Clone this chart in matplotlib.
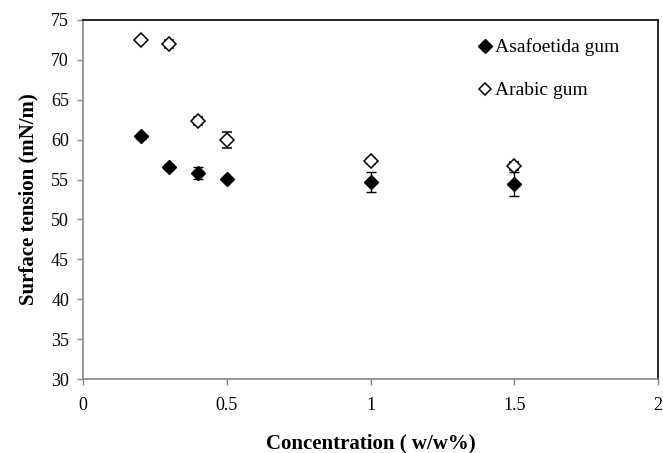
import numpy as np
import matplotlib
matplotlib.use('Agg')
import matplotlib.pyplot as plt
from matplotlib.lines import Line2D

# Données
concentration = [0.2, 0.3, 0.4, 0.5, 1.0, 1.5]
asafoetida = [60.4, 56.6, 55.8, 55.1, 54.7, 54.5]
asafoetida_err = [0.3, 0.4, 0.75, 0.0, 1.2, 1.5]
arabic = [72.5, 72.0, 62.4, 59.9, 57.3, 56.7]
arabic_err = [0.0, 0.5, 0.5, 1.0, 0.4, 0.5]

x_ticks = [0, 0.5, 1, 1.5, 2]
x_tick_labels = ['0', '0.5', '1', '1.5', '2']
y_ticks = list(range(30, 80, 5))

plt.rcParams['font.family'] = ['Liberation Serif', 'DejaVu Serif']

fig = plt.figure(figsize=(6.63, 4.53), dpi=100)
ax = fig.add_axes([83 / 663, 1 - 379 / 453, (658 - 83) / 663, (379 - 20) / 453])

ax.errorbar(concentration, asafoetida, yerr=asafoetida_err, fmt='D', color='black',
            markerfacecolor='black', markeredgecolor='black', markersize=7.5,
            ecolor='black', elinewidth=1, capsize=3.6, capthick=1, zorder=3)
ax.errorbar(concentration, arabic, yerr=arabic_err, fmt='D', color='black',
            markerfacecolor='white', markeredgecolor='black', markersize=7,
            markeredgewidth=1.1, ecolor='black', elinewidth=1, capsize=3.6,
            capthick=1, zorder=3)

ax.set_xlim(0, 2)
ax.set_ylim(30, 75)
ax.set_xticks(x_ticks)
ax.set_xticklabels(x_tick_labels)
ax.set_yticks(y_ticks)

for side in ['left', 'bottom']:
    ax.spines[side].set_color('#868686')
    ax.spines[side].set_linewidth(1.2)
for side in ['top', 'right']:
    ax.spines[side].set_color('black')
    ax.spines[side].set_linewidth(1.2)

ax.tick_params(axis='both', direction='out', length=4, width=1, color='#868686',
               labelsize=13)
ax.tick_params(axis='x', pad=9)
ax.tick_params(axis='y', pad=6)

ax.set_xlabel('Concentration ( w/w%)', fontsize=15, fontweight='bold', labelpad=14)
ax.set_ylabel('Surface tension (mN/m)', fontsize=15, fontweight='bold', labelpad=9)

# légende sans barres d'erreur
handles = [
    Line2D([], [], linestyle='none', marker='D', markersize=7, color='black',
           markerfacecolor='black'),
    Line2D([], [], linestyle='none', marker='D', markersize=6.5, color='black',
           markerfacecolor='white', markeredgewidth=1.1),
]
ax.legend(handles, ['Asafoetida gum', 'Arabic gum'], loc='upper left',
          bbox_to_anchor=(0.675, 0.97), frameon=False, fontsize=14,
          handlelength=0.6, handletextpad=0.25, labelspacing=1.3, borderaxespad=0)

fig.savefig('out.png', dpi=100)
